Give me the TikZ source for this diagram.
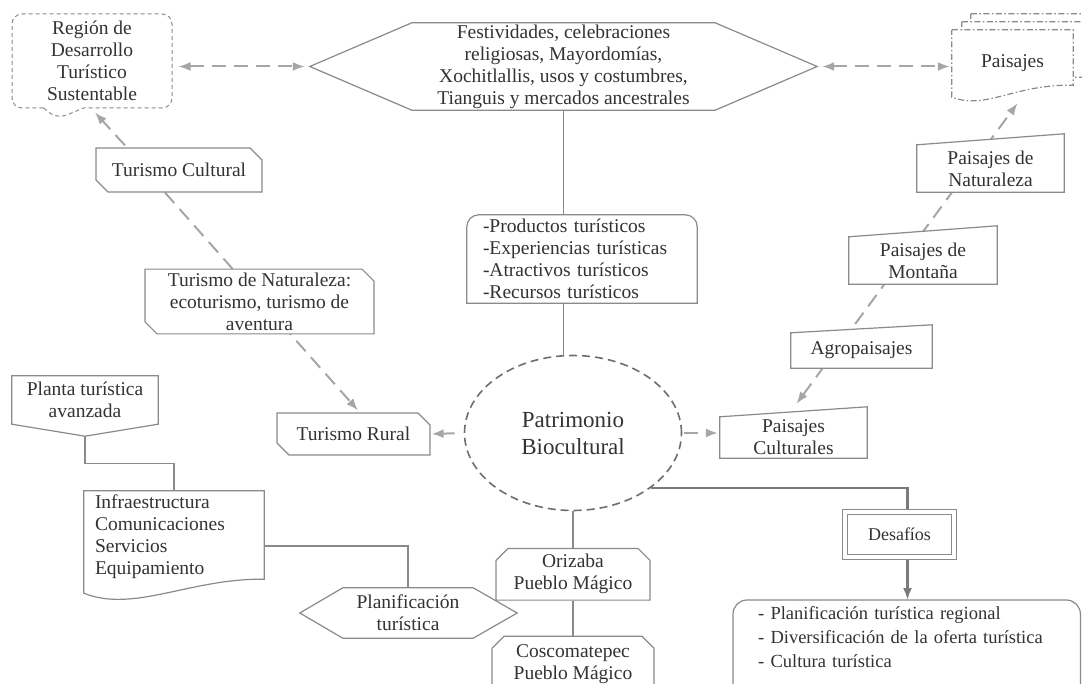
\documentclass[tikz,border=0pt]{standalone}
\usepackage{fontspec}
\setmainfont{Liberation Serif}
\usetikzlibrary{positioning,arrows.meta,shapes.misc,shapes.geometric,shapes.callouts}
\definecolor{boxgray}{HTML}{8A8A8A}
\definecolor{dashgray}{HTML}{A6A6A6}
\definecolor{inkgray}{HTML}{333333}
\definecolor{ovalgray}{HTML}{6E6E6E}
\definecolor{linkgray}{HTML}{7A7A7A}
\pgfdeclarelayer{links}
\pgfdeclarelayer{outlines}
\pgfsetlayers{links,outlines,main}
\tikzstyle{txt}=[font=\fontsize{19.5}{22}\selectfont, text=inkgray, align=center, inner sep=0pt]
\tikzstyle{boxline}=[draw=boxgray, line width=1.2pt, fill=white]
\tikzstyle{docline}=[boxline, dash pattern=on 6pt off 2.5pt on 1.5pt off 2.5pt]
\tikzstyle{cutbox}=[txt, boxline, chamfered rectangle, chamfered rectangle sep=6pt]
\tikzstyle{plainlink}=[draw=boxgray, line width=1.2pt]
\tikzstyle{dashlink}=[draw=dashgray, line width=2pt, dash pattern=on 14pt off 8pt]
\tikzstyle{mainlink}=[draw=linkgray, line width=2.2pt]
\begin{document}
\begin{tikzpicture}[x=1pt, y=-1pt, >={Latex[length=12pt,width=9pt]}]
            \useasboundingbox (0,0) rectangle (1082,684);

            % LEFT PART

            \node[txt, rectangle callout, draw=boxgray, line width=1pt, dash pattern=on 4pt off 3pt,
                  rounded corners=10pt, fill=white, minimum width=160pt, minimum height=94pt,
                  callout absolute pointer={(57,119)}, callout pointer width=40pt] (reg) at (92,61) {Región de\\Desarrollo\\Turístico\\Sustentable};
            \node[cutbox, chamfered rectangle corners={north east,south west}, minimum width=166pt, minimum height=44pt] (tcult) at (179,170) {Turismo Cultural};
            \node[cutbox, chamfered rectangle corners={north east,south west}, minimum width=229pt, minimum height=61pt, inner ysep=-2.5pt] (tnat) at (259.5,301.5) {Turismo de Naturaleza:\\ecoturismo, turismo de\\aventura};
            \node[cutbox, chamfered rectangle corners={north east,south west}, minimum width=153pt, minimum height=42pt] (trur) at (353.5,434) {Turismo Rural};
            \node[txt, minimum width=146pt, minimum height=48pt] (planta) at (85,400) {Planta turística\\avanzada};
            \node[txt, align=left, text width=158pt, inner xsep=11pt, minimum height=92pt] (infra) at (174,537) {Infraestructura\\Comunicaciones\\Servicios\\Equipamiento};
            \node[txt, minimum width=130pt, minimum height=50pt] (plan) at (408,613) {Planificación\\turística};

            % CENTRE PART

            \node[txt, minimum width=303pt, minimum height=87pt] (fest) at (563.5,66.5) {Festividades, celebraciones\\religiosas, Mayordomías,\\Xochitlallis, usos y costumbres,\\Tianguis y mercados ancestrales};
            \node[txt, align=left, text width=198pt, minimum width=230pt, minimum height=88pt] (prod) at (582,259) {-Productos turísticos\\-Experiencias turísticas\\-Atractivos turísticos\\-Recursos turísticos};
            \node[txt, ellipse, draw=ovalgray, line width=1.6pt, dash pattern=on 8pt off 5pt, fill=white,
                  minimum width=217pt, minimum height=155pt, font=\fontsize{23}{27}\selectfont] (elip) at (573,433) {Patrimonio\\Biocultural};
            \node[cutbox, chamfered rectangle corners={north west,north east}, minimum width=154pt, minimum height=50pt, below=36.5pt of elip] (oriz) {Orizaba\\Pueblo Mágico};
            \node[cutbox, chamfered rectangle corners={north west,north east}, minimum width=162pt, minimum height=56pt, below=35pt of oriz] (cosc) {Coscomatepec\\Pueblo Mágico};

            % RIGHT PART

            \node[txt, minimum width=121pt, minimum height=67pt] (pais) at (1012.5,63.5) {Paisajes};
            \node[txt, minimum width=147pt, minimum height=47pt] (pnat) at (990.5,168.5) {Paisajes de\\Naturaleza};
            \node[txt, minimum width=148pt, minimum height=47pt] (pmon) at (923,260.5) {Paisajes de\\Montaña};
            \node[txt, minimum width=141pt, minimum height=35pt] (pagro) at (861.5,350.5) {Agropaisajes};
            \node[txt, minimum width=147pt, minimum height=41pt] (pcult) at (793.5,437.5) {Paisajes\\Culturales};
            \node[txt, draw=boxgray, line width=1.3pt, double=white, double distance=4pt, fill=white,
                  minimum width=109pt, minimum height=45pt, font=\fontsize{18}{22}\selectfont] (desa) at (899.5,534.5) {Desafíos};
            \node[txt, anchor=north west, align=left, text width=297pt, inner xsep=25pt, inner ysep=6pt,
                  font=\fontsize{18.5}{24}\selectfont] (desl) at (733,600) {- Planificación turística regional\\- Diversificación de la oferta turística\\- Cultura turística};

            % Outlines of the drawn shapes

            \begin{pgfonlayer}{outlines}
            \draw[boxline] ([xshift=-102pt]fest.west) -- (fest.north west) -- (fest.north east) -- ([xshift=102pt]fest.east) -- (fest.south east) -- (fest.south west) -- cycle;
            \draw[boxline] ([xshift=-43pt]plan.west) -- (plan.north west) -- (plan.north east) -- ([xshift=44pt]plan.east) -- (plan.south east) -- (plan.south west) -- cycle;
            \draw[boxline] (planta.north west) -- (planta.north east) -- (planta.south east) -- ([yshift=-12pt]planta.south) -- (planta.south west) -- cycle;
            \draw[boxline] (infra.north west) -- (infra.north east) -- ([yshift=4pt]infra.south east) .. controls +(-74,-1) and +(50,20) .. ([yshift=-10pt]infra.south west) -- cycle;
            \draw[boxline] (prod.south west) -- ([yshift=-12pt]prod.north west) arc[start angle=180, end angle=90, radius=12pt]
                -- ([xshift=-12pt]prod.north east) arc[start angle=90, end angle=0, radius=12pt] -- (prod.south east) -- cycle;
            \draw[boxline, rounded corners=14pt] (desl.north west) rectangle ([yshift=-40pt]desl.south east);
            \foreach \dx/\dy in {19/16,10/8,0/0}
                \draw[docline] ([xshift=\dx pt,yshift=\dy pt]pais.north west) -- ([xshift=\dx pt,yshift=\dy pt]pais.north east)
                    -- ([xshift=\dx pt,yshift=\dy pt+12pt]pais.south east) .. controls +(-60,-1) and +(35,13) .. ([xshift=\dx pt,yshift=\dy pt]pais.south west) -- cycle;
            \foreach \n/\r in {pnat/11,pmon/11,pagro/8,pcult/10}
                \draw[boxline] (\n.south west) -- (\n.north west) -- ([yshift=\r pt]\n.north east) -- (\n.south east) -- cycle;
            \end{pgfonlayer}

            % Connections

            \begin{pgfonlayer}{links}
            \draw[dashlink,<->,shorten <=6pt,shorten >=5pt] (reg.east |- fest.west) -- ([xshift=-102pt]fest.west);
            \draw[dashlink,<->,shorten <=5pt,shorten >=2pt] ([xshift=102pt]fest.east) -- (pais.west |- fest.east);
            \draw[dashlink,->] ([xshift=-54pt,yshift=2pt]tcult.north) -- ([xshift=3pt,yshift=-4pt]reg.south);
            \draw[dashlink,->] ([xshift=-14pt]tcult.south) -- ([xshift=4.5pt,yshift=2pt]trur.north);
            \draw[dashlink,->,shorten <=9pt,shorten >=1pt] (elip.west) -- (trur.east);
            \draw[dashlink,->,shorten <=2pt,shorten >=2pt] (elip.east) -- (elip.east -| pcult.west);
            \draw[dashlink,<->] ([xshift=3pt,yshift=13pt]pcult.north) -- ([xshift=5pt,yshift=-6pt]pais.south);

            \draw[plainlink] (fest.south) -- (prod.north -| fest.south);
            \draw[plainlink] (prod.south -| fest.south) -- (elip.north -| fest.south);
            \draw[plainlink] (elip.south) -- (oriz.north);
            \draw[plainlink] (oriz.south) -- (cosc.north);
            \draw[plainlink] ([yshift=-12pt]planta.south) -- ++(0,27) -| (infra.north);
            \draw[plainlink] ([yshift=-9pt]infra.east) -| (plan.north);

            \draw[mainlink] (elip.-35) -| ([xshift=8pt]desa.north);
            \draw[mainlink,->] ([xshift=8pt]desa.south) -- ([xshift=8pt]desa.south |- desl.north);
            \end{pgfonlayer}

        \end{tikzpicture}
\end{document}
